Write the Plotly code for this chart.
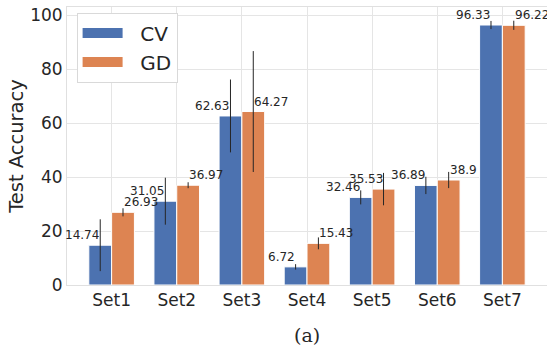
import plotly.graph_objects as go

categories = ["Set1", "Set2", "Set3", "Set4", "Set5", "Set6", "Set7"]
cv_vals = [14.74, 31.05, 62.63, 6.72, 32.46, 36.89, 96.33]
gd_vals = [26.93, 36.97, 64.27, 15.43, 35.53, 38.9, 96.22]
cv_err = [9.6, 8.7, 13.5, 1.0, 2.6, 3.2, 1.5]
gd_err = [1.5, 1.1, 22.4, 2.2, 6.0, 3.0, 1.7]
y_ticks = [0, 20, 40, 60, 80, 100]
# label alignment relative to bar centre (style)
gd_label_side = ["left", "left", "left", "left", "right", "left", "left"]

BLUE = "#4C72B0"
ORANGE = "#DD8452"
TXT = "#262626"
W = 0.35
NB = "\u00a0\u00a0"

xs = list(range(len(categories)))
x_cv = [i - W / 2 for i in xs]
x_gd = [i + W / 2 for i in xs]

fig = go.Figure()
fig.add_trace(go.Bar(x=x_cv, y=cv_vals, width=W, marker=dict(color=BLUE, line=dict(color="white", width=1)),
                     error_y=dict(type="data", array=cv_err, color=TXT, thickness=1, width=0),
                     showlegend=False, name="CV"))
fig.add_trace(go.Bar(x=x_gd, y=gd_vals, width=W, marker=dict(color=ORANGE, line=dict(color="white", width=1)),
                     error_y=dict(type="data", array=gd_err, color=TXT, thickness=1, width=0),
                     showlegend=False, name="GD"))
# legend proxies
fig.add_trace(go.Scatter(x=[None], y=[None], mode="lines", line=dict(color=BLUE, width=13), name=NB + "CV"))
fig.add_trace(go.Scatter(x=[None], y=[None], mode="lines", line=dict(color=ORANGE, width=13), name=NB + "GD"))

for x, v in zip(x_cv, cv_vals):
    fig.add_annotation(x=x, y=v, text=str(v), showarrow=False, xanchor="right", yanchor="bottom",
                       font=dict(size=12, color=TXT, family="DejaVu Sans"), xshift=1, yshift=1)
for x, v, side in zip(x_gd, gd_vals, gd_label_side):
    fig.add_annotation(x=x, y=v, text=str(v), showarrow=False, xanchor=side, yanchor="bottom",
                       font=dict(size=12, color=TXT, family="DejaVu Sans"),
                       xshift=(-1 if side == "left" else 1), yshift=1)

fig.add_annotation(x=0.5, y=-0.18, xref="paper", yref="paper", text="(a)", showarrow=False,
                   xanchor="center", yanchor="middle", font=dict(size=19, color=TXT, family="DejaVu Serif"))

fig.update_layout(
    width=547, height=345,
    margin=dict(l=67, r=0, t=7, b=60),
    paper_bgcolor="white", plot_bgcolor="white",
    barmode="overlay",
    font=dict(family="DejaVu Sans", color=TXT),
    legend=dict(x=0.02, y=0.98, xanchor="left", yanchor="top", bgcolor="white",
                bordercolor="#d9d9d9", borderwidth=1, font=dict(size=20, color=TXT),
                itemwidth=40, tracegroupgap=0),
    xaxis=dict(range=[-0.685, 6.685], tickvals=xs, ticktext=categories, tickfont=dict(size=17),
               showgrid=True, gridcolor="#e5e5e5", gridwidth=1, zeroline=False,
               showline=True, linecolor="#e0e0e0", mirror=True, ticks="", ticklen=0),
    yaxis=dict(range=[0, 103], tickvals=y_ticks, tickfont=dict(size=17),
               title=dict(text="Test Accuracy", font=dict(size=19.5), standoff=1),
               showgrid=True, gridcolor="#e5e5e5", gridwidth=1, zeroline=False,
               showline=True, linecolor="#e0e0e0", mirror=True, ticks=""),
)

fig.write_html("out.html")
